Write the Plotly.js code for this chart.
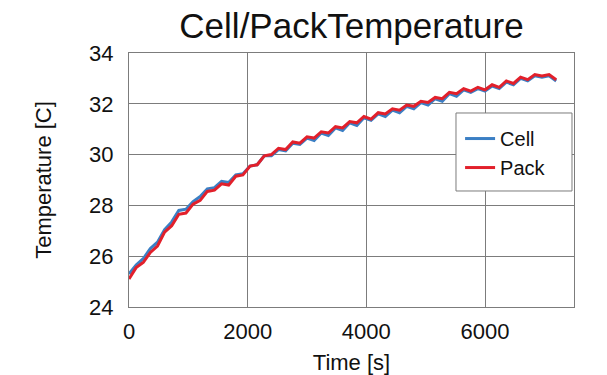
<!DOCTYPE html>
<html>
<head>
<meta charset="utf-8">
<script src="https://cdn.plot.ly/plotly-3.0.1.min.js"></script>
<style>html,body{margin:0;padding:0;background:#fff;}#chart{width:607px;height:375px;}</style>
</head>
<body>
<div id="chart"></div>
<script>
const timeS = [0,120,240,360,480,600,720,840,960,1080,1200,1320,1440,1560,1680,1800,1920,2040,2160,2280,2400,2520,2640,2760,2880,3000,3120,3240,3360,3480,3600,3720,3840,3960,4080,4200,4320,4440,4560,4680,4800,4920,5040,5160,5280,5400,5520,5640,5760,5880,6000,6120,6240,6360,6480,6600,6720,6840,6960,7080,7200];
const cellTemp = [25.30,25.65,25.90,26.30,26.55,27.05,27.35,27.80,27.85,28.15,28.35,28.65,28.70,28.95,28.90,29.20,29.25,29.55,29.60,29.95,29.95,30.20,30.15,30.45,30.40,30.65,30.55,30.85,30.75,31.05,30.95,31.25,31.15,31.45,31.35,31.60,31.50,31.75,31.65,31.90,31.80,32.05,31.95,32.20,32.10,32.40,32.30,32.55,32.45,32.60,32.50,32.70,32.60,32.85,32.75,33.00,32.90,33.10,33.05,33.10,32.90];
const packTemp = [25.10,25.55,25.75,26.15,26.40,26.95,27.20,27.65,27.70,28.05,28.20,28.55,28.60,28.85,28.80,29.15,29.20,29.55,29.60,29.95,30.00,30.25,30.20,30.50,30.45,30.70,30.65,30.90,30.85,31.10,31.05,31.30,31.25,31.50,31.40,31.65,31.60,31.80,31.75,31.95,31.90,32.10,32.05,32.25,32.20,32.45,32.40,32.60,32.50,32.65,32.55,32.75,32.65,32.90,32.80,33.05,32.95,33.15,33.10,33.15,32.95];
const seriesNames = ["Cell", "Pack"];
const xTicks = [0, 2000, 4000, 6000];
const yTicks = [24, 26, 28, 30, 32, 34];

const font = "Liberation Sans, Arial, sans-serif";
const gridCol = "#7c7c7c";
const traces = [
  {x: timeS, y: cellTemp, name: seriesNames[0], type: "scatter", mode: "lines",
   line: {color: "#3b7fc4", width: 3}},
  {x: timeS, y: packTemp, name: seriesNames[1], type: "scatter", mode: "lines",
   line: {color: "#e2202b", width: 3}}
];
const layout = {
  width: 607, height: 375,
  margin: {l: 129, r: 33, t: 53, b: 68},
  paper_bgcolor: "#fff", plot_bgcolor: "#fff",
  font: {family: font, color: "#111"},
  title: {text: "Cell/PackTemperature", font: {size: 35, color: "#111", family: font},
          x: 0.5, xanchor: "center", xref: "paper", y: 0.932, yref: "container", yanchor: "middle"},
  xaxis: {range: [0, 7500], tickvals: xTicks, ticktext: xTicks.map(String),
          showgrid: true, gridcolor: gridCol, gridwidth: 1,
          showline: true, linecolor: gridCol, linewidth: 1, mirror: true,
          zeroline: false, ticks: "", tickfont: {size: 22, color: "#111"},
          ticklabelstandoff: 5,
          title: {text: "Time [s]", font: {size: 22, color: "#111"}, standoff: 13}},
  yaxis: {range: [24, 34], tickvals: yTicks, ticktext: yTicks.map(String),
          showgrid: true, gridcolor: gridCol, gridwidth: 1,
          showline: true, linecolor: gridCol, linewidth: 1, mirror: true,
          zeroline: false, ticks: "", tickfont: {size: 22, color: "#111"},
          ticklabelstandoff: 10,
          title: {text: "Temperature [C]", font: {size: 22, color: "#111"}, standoff: 31}},
  legend: {x: 0.744, y: 0.740, xanchor: "left", yanchor: "top",
           bgcolor: "rgba(0,0,0,0)", borderwidth: 0,
           font: {size: 20, color: "#111"}, itemwidth: 30},
  shapes: [{type: "rect", xref: "paper", yref: "paper", x0: 0.7348, x1: 0.9955, y0: 0.4567, y1: 0.7638,
            line: {color: gridCol, width: 1}, fillcolor: "#fff", layer: "above"}],
  showlegend: true
};
Plotly.newPlot("chart", traces, layout, {staticPlot: true, displayModeBar: false});
</script>
</body>
</html>
